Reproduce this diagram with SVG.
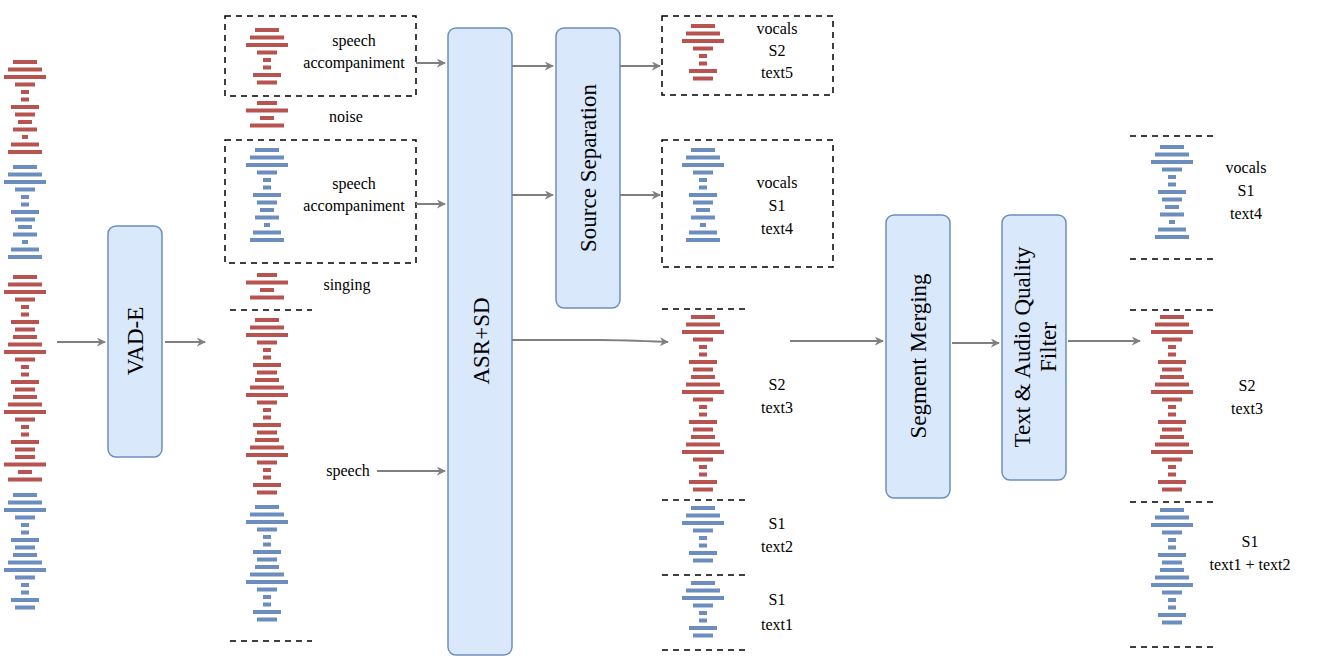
<svg xmlns="http://www.w3.org/2000/svg" xmlns:xlink="http://www.w3.org/1999/xlink" width="1324" height="672" viewBox="0 0 1324 672">
<style>
text{font-family:"Liberation Serif",serif;font-size:16px;fill:#000;text-anchor:middle}
.box{fill:#dae8fc;stroke:#6c8ebf;stroke-width:1.5}
.bl{font-size:23px}
.dash{fill:none;stroke:#000;stroke-width:1.5;stroke-dasharray:6 5}
.ar{stroke:#808080;stroke-width:2;fill:none;marker-end:url(#ah)}
.r{fill:#b85450}.b{fill:#6c8ebf}
</style>
<defs>
<marker id="ah" viewBox="0 0 10 10" refX="9" refY="5" markerWidth="9" markerHeight="9" markerUnits="userSpaceOnUse" orient="auto"><path d="M0,0L10,5L0,10L3,5Z" fill="#808080"/></marker>
<g id="A"><rect x="-12" y="0" width="24" height="4"/><rect x="-17" y="7.5" width="34" height="4"/><rect x="-21" y="15" width="42" height="4"/><rect x="-10" y="22.5" width="20" height="4"/><rect x="-4" y="30" width="8" height="4"/><rect x="-4" y="37.5" width="8" height="4"/><rect x="-14" y="45" width="28" height="4"/><rect x="-10" y="52.5" width="20" height="4"/></g>
<g id="B"><rect x="-7" y="0" width="14" height="4"/><rect x="-12" y="7.5" width="24" height="4"/><rect x="-3" y="15" width="6" height="4"/><rect x="-14" y="22.5" width="28" height="4"/><rect x="-17" y="30" width="34" height="4"/></g>
<g id="C"><rect x="-10" y="0" width="20" height="4"/><rect x="-21" y="7.5" width="42" height="4"/><rect x="-7" y="15" width="14" height="4"/><rect x="-17" y="22.5" width="34" height="4"/></g>
</defs>
<g id="waves">
<g transform="translate(25,0)"><use href="#A" y="60" class="r"/><use href="#B" y="120" class="r"/><use href="#A" y="165" class="b"/><use href="#B" y="225" class="b"/><use href="#A" y="275" class="r"/><use href="#A" y="335" class="r"/><use href="#A" y="395" class="r"/><use href="#C" y="455" class="r"/><use href="#A" y="493" class="b"/><use href="#A" y="553" class="b"/></g>
<g transform="translate(267,0)"><use href="#A" y="28" class="r"/><use href="#C" y="101" class="r"/><use href="#A" y="148" class="b"/><use href="#B" y="208" class="b"/><use href="#C" y="273" class="r"/><use href="#A" y="318" class="r"/><use href="#A" y="378" class="r"/><use href="#A" y="438" class="r"/><use href="#A" y="505" class="b"/><use href="#A" y="565" class="b"/></g>
<g transform="translate(703,0)"><use href="#A" y="24" class="r"/><use href="#A" y="148" class="b"/><use href="#B" y="208" class="b"/><use href="#A" y="315" class="r"/><use href="#A" y="375" class="r"/><use href="#A" y="435" class="r"/><use href="#A" y="506" class="b"/><use href="#A" y="581" class="b"/></g>
<g transform="translate(1172,0)"><use href="#A" y="145" class="b"/><use href="#B" y="205" class="b"/><use href="#A" y="315" class="r"/><use href="#A" y="375" class="r"/><use href="#A" y="435" class="r"/><use href="#A" y="508" class="b"/><use href="#A" y="568" class="b"/></g>
</g>
<g id="frames">
<rect class="dash" x="225" y="16" width="191" height="80"/>
<rect class="dash" x="225" y="140" width="191" height="123"/>
<rect class="dash" x="662" y="16" width="171" height="79"/>
<rect class="dash" x="662" y="140" width="171" height="127"/>
<path class="dash" d="M230,310H312M230,641H312M662,309H745M662,500H745M662,575H745M662,650H745M1130,136H1214M1130,259H1214M1130,310H1214M1130,502H1214M1130,647H1214"/>
</g>
<g id="labels">
<text x="354" y="46">speech</text><text x="354" y="68">accompaniment</text>
<text x="346" y="122">noise</text>
<text x="354" y="189">speech</text><text x="354" y="211">accompaniment</text>
<text x="347" y="290">singing</text>
<text x="348" y="476">speech</text>
<text x="777" y="34">vocals</text><text x="777" y="56">S2</text><text x="777" y="78">text5</text>
<text x="777" y="188">vocals</text><text x="777" y="211">S1</text><text x="777" y="234">text4</text>
<text x="777" y="390">S2</text><text x="777" y="413">text3</text>
<text x="777" y="529">S1</text><text x="777" y="552">text2</text>
<text x="777" y="605">S1</text><text x="777" y="630">text1</text>
<text x="1246" y="173">vocals</text><text x="1246" y="196">S1</text><text x="1246" y="219">text4</text>
<text x="1247" y="391">S2</text><text x="1247" y="414">text3</text>
<text x="1250" y="547">S1</text><text x="1250" y="570">text1 + text2</text>
</g>
<g id="vad"><rect class="box" x="108" y="226" width="54" height="231" rx="8"/><text class="bl" transform="translate(143,341) rotate(-90)">VAD-E</text></g>
<g id="asr"><rect class="box" x="448" y="28" width="64" height="627" rx="8"/><text class="bl" transform="translate(489,341) rotate(-90)">ASR+SD</text></g>
<g id="ss"><rect class="box" x="556" y="28" width="64" height="280" rx="8"/><text class="bl" transform="translate(596,168) rotate(-90)">Source Separation</text></g>
<g id="sm"><rect class="box" x="886" y="215" width="64" height="283" rx="8"/><text class="bl" transform="translate(926,356) rotate(-90)">Segment Merging</text></g>
<g id="filt"><rect class="box" x="1002" y="215" width="64" height="265" rx="8"/><text class="bl" transform="translate(1030,347) rotate(-90)">Text &amp; Audio Quality</text><text class="bl" transform="translate(1056,347) rotate(-90)">Filter</text></g>
<g id="connectors">
<path class="ar" d="M57,342H105"/>
<path class="ar" d="M165,342H205"/>
<path class="ar" d="M416,63H445"/>
<path class="ar" d="M416,204H445"/>
<path class="ar" d="M377,471H445"/>
<path class="ar" d="M512,66H553"/>
<path class="ar" d="M512,195H553"/>
<path class="ar" d="M620,66H660"/>
<path class="ar" d="M620,195H660"/>
<path class="ar" d="M512,340H600Q620,340 668,342"/>
<path class="ar" d="M790,341H883"/>
<path class="ar" d="M952,343H999"/>
<path class="ar" d="M1068,341H1140"/>
</g>
</svg>
